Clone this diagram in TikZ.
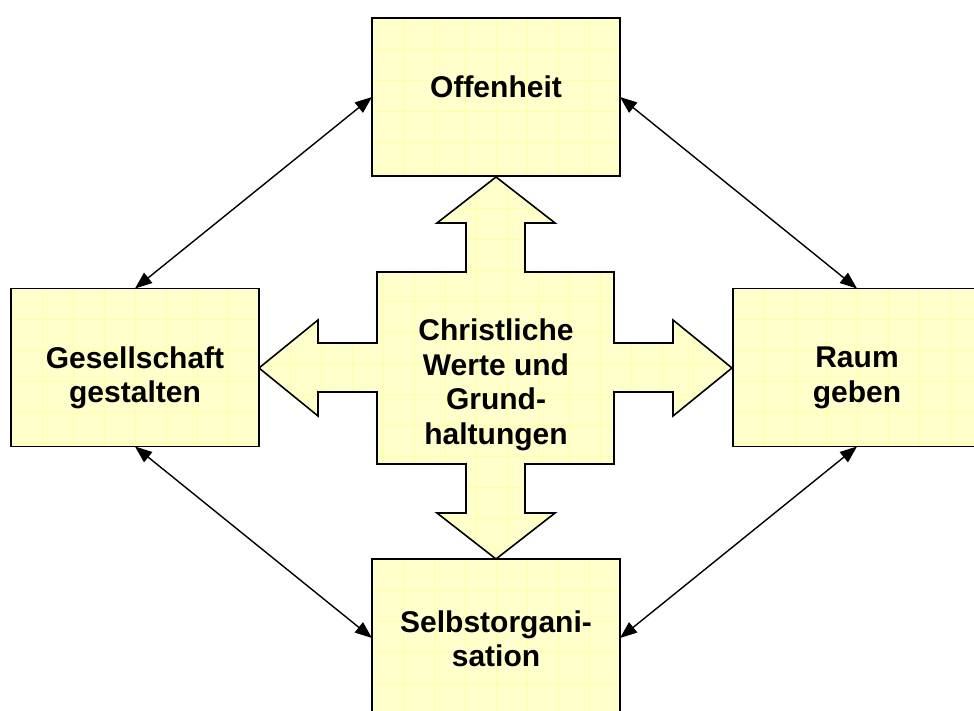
\documentclass[tikz,border=0pt]{standalone}
\usepackage{fontspec}
\setmainfont{Liberation Sans}
\usetikzlibrary{arrows.meta}
\definecolor{boxfill}{HTML}{FFFFCC}
\definecolor{gridcol}{HTML}{FFFFA6}
\tikzset{
  gridfill/.style={fill=boxfill, path picture={
    \foreach \k in {1,...,16}{
      \draw[gridcol, line width=0.8pt] ([xshift=\k*31pt]path picture bounding box.north west) -- ([xshift=\k*31pt]path picture bounding box.south west);
      \draw[gridcol, line width=0.8pt] ([yshift=-\k*31pt]path picture bounding box.north west) -- ([yshift=-\k*31pt]path picture bounding box.north east);
    }}},
  topicbox/.style={draw=black, line width=1.6pt, gridfill, minimum width=248pt, minimum height=158pt, inner sep=0pt, outer sep=0pt},
  crossshape/.style={draw=black, line width=1.6pt, gridfill, line join=miter},
  label/.style={font=\bfseries\fontsize{30}{34.5}\selectfont, align=center, inner sep=0pt},
  link/.style={black, line width=1.4pt, {Triangle[length=17pt,width=13pt]}-{Triangle[length=17pt,width=13pt]}}
}
\begin{document}
\begin{tikzpicture}[x=1pt,y=-1pt]
\useasboundingbox (0,0) rectangle (974,711);
% central cross
\draw[crossshape] (496,177) -- (555,223) -- (525,223) -- (525,272) -- (614,272) -- (614,343) -- (673,343) -- (673,320) -- (732,368) -- (673,416) -- (673,392) -- (614,392) -- (614,464) -- (525,464) -- (525,513) -- (555,513) -- (496,559) -- (437,513) -- (466,513) -- (466,464) -- (377,464) -- (377,392) -- (318,392) -- (318,416) -- (259,368) -- (318,320) -- (318,343) -- (377,343) -- (377,272) -- (466,272) -- (466,223) -- (437,223) -- cycle;
% boxes
\node[topicbox] (off) at (496,97) {};
\node[topicbox] (ges) at (135,367.5) {};
\node[topicbox] (raum) at (857,367.5) {};
\node[topicbox] (selbst) at (496,638) {};
% texts
\node[label] (offT) at (496,87) {Offenheit};
\node[label] (gesT) at (135,378) {Gesellschaft\\gestalten};
\node[label] (raumT) at (857,378) {Raum\\geben};
\node[label] (selbstT) at (496,639) {Selbstorgani-\\sation};
\node[label] (centerT) at (496,385) {Christliche\\Werte und\\Grund-\\haltungen};
% connectors
\draw[link] (off.west) -- (ges.north);
\draw[link] (off.east) -- (raum.north);
\draw[link] (ges.south) -- (selbst.west);
\draw[link] (raum.south) -- (selbst.east);
\end{tikzpicture}
\end{document}
